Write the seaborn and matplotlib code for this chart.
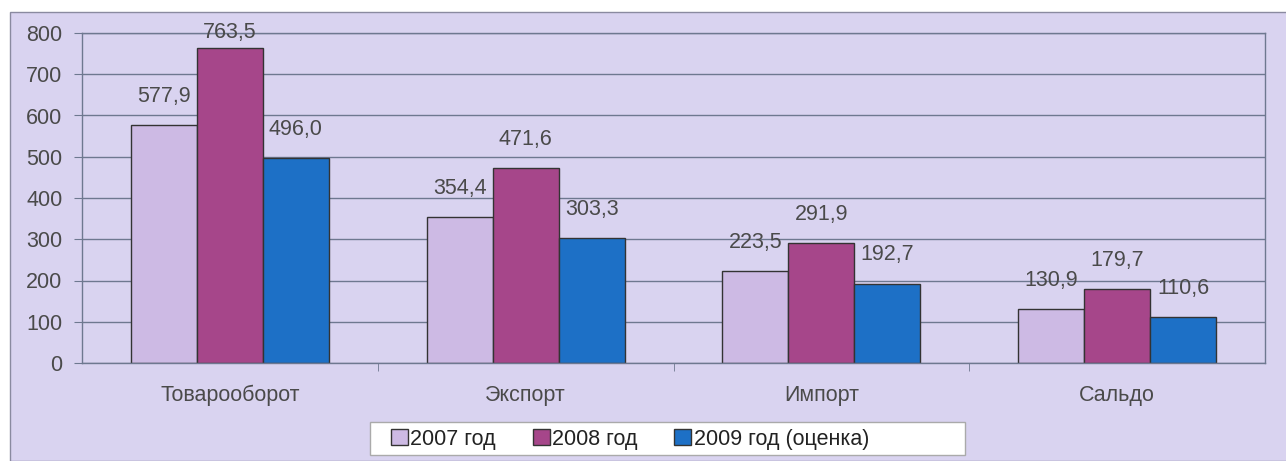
import matplotlib
matplotlib.use("Agg")
import matplotlib.pyplot as plt
from matplotlib.patches import Rectangle
import seaborn as sns
import pandas as pd

categories = ["Товарооборот", "Экспорт", "Импорт", "Сальдо"]
series_names = ["2007 год", "2008 год", "2009 год (оценка)"]
values_2007 = [577.9, 354.4, 223.5, 130.9]
values_2008 = [763.5, 471.6, 291.9, 179.7]
values_2009 = [496.0, 303.3, 192.7, 110.6]
bar_colors = ["#cdbae4", "#a6468a", "#1d70c6"]

bg = "#d9d3f0"
text_col = "#4a4a4a"
W, H = 1286, 461
fs = 15.5

rows = []
for name, vals in zip(series_names, [values_2007, values_2008, values_2009]):
    for cat, v in zip(categories, vals):
        rows.append({"cat": cat, "year": name, "value": v})
df = pd.DataFrame(rows)

sns.set_style("white")
plt.rcParams["font.family"] = ["Liberation Sans", "DejaVu Sans"]

fig = plt.figure(figsize=(W / 100, H / 100), dpi=100)
fig.patch.set_facecolor("white")
# lavender panel behind the chart
fig.patches.append(Rectangle((10 / W, 0), 1.0, 1 - 12 / H, transform=fig.transFigure,
                             facecolor=bg, edgecolor="#8a8aa0", linewidth=1.0, zorder=-10))
# white legend box
fig.patches.append(Rectangle((370 / W, 1 - 455 / H), 595 / W, 33 / H, transform=fig.transFigure,
                             facecolor="white", edgecolor="#aaaaaa", linewidth=1.0, zorder=-5))

ax = fig.add_axes([82 / W, 1 - 363 / H, (1265 - 82) / W, (363 - 33) / H])
ax.set_facecolor(bg)

sns.barplot(data=df, x="cat", y="value", hue="year", order=categories, hue_order=series_names,
            palette=bar_colors, width=0.67, edgecolor="#333333", linewidth=1.0, ax=ax,
            saturation=1, legend=True)

ax.set_ylim(0, 800)
for container in ax.containers:
    labels = [f"{v:.1f}".replace(".", ",") for v in container.datavalues]
    anns = ax.bar_label(container, labels=labels, padding=13, fontsize=fs, color=text_col)
    # labels near the top are pulled down so they stay inside the plot area
    for ann, v in zip(anns, container.datavalues):
        if v > 700:
            ann.xyann = (0, 4)

ax.set_yticks(range(0, 801, 100))
ax.set_xlim(-0.5, 3.5)
ax.yaxis.grid(True, color="#6e7890", linewidth=1.0)
ax.set_axisbelow(True)
ax.set_xlabel("")
ax.set_ylabel("")
for s in ax.spines.values():
    s.set_color("#6e7890")
    s.set_linewidth(1.0)
ax.tick_params(axis="y", left=True, length=6, color="#6e7890", labelsize=fs, labelcolor=text_col, pad=8)
ax.tick_params(axis="x", bottom=False, labelsize=fs, labelcolor=text_col, pad=12)
ax.set_xticks([0.5, 1.5, 2.5], minor=True)
ax.tick_params(axis="x", which="minor", bottom=True, length=6, color="#6e7890")

handles, labels = ax.get_legend_handles_labels()
ax.get_legend().remove()
leg = fig.legend(handles, labels, loc="center left", bbox_to_anchor=(376 / W, 1 - 439 / H),
                 ncol=3, frameon=False, fontsize=fs, handlelength=0.8,
                 handleheight=0.8, handletextpad=0.1, columnspacing=1.7, borderpad=0.2,
                 labelcolor="#222222")

fig.savefig("out.png", dpi=100, facecolor=fig.get_facecolor())
